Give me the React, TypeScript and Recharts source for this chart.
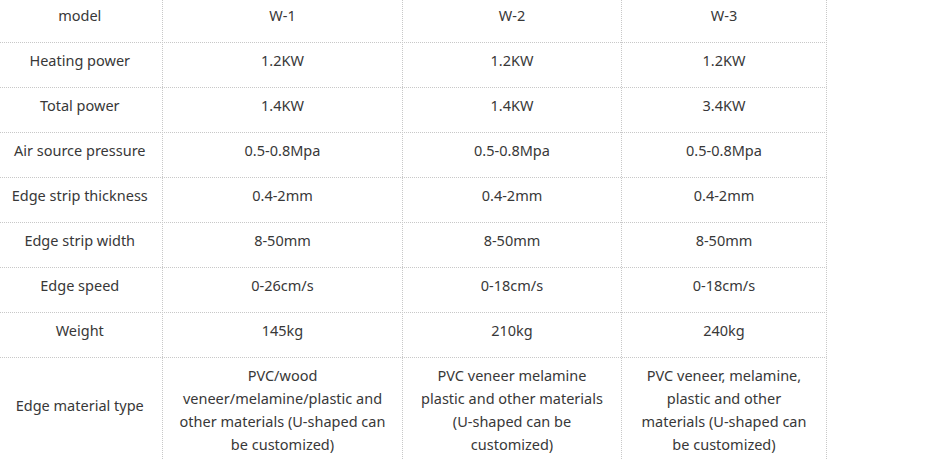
import React from 'react';
import { ScatterChart, Scatter, XAxis, YAxis, ReferenceLine } from 'recharts';

// ---- data ----
const headerLabel = 'model';
const models = ['W-1', 'W-2', 'W-3'];
const rowLabels = [
  'Heating power',
  'Total power',
  'Air source pressure',
  'Edge strip thickness',
  'Edge strip width',
  'Edge speed',
  'Weight',
  'Edge material type',
];
const w1Values = [
  '1.2KW',
  '1.4KW',
  '0.5-0.8Mpa',
  '0.4-2mm',
  '8-50mm',
  '0-26cm/s',
  '145kg',
  'PVC/wood\nveneer/melamine/plastic and\nother materials (U-shaped can\nbe customized)',
];
const w2Values = [
  '1.2KW',
  '1.4KW',
  '0.5-0.8Mpa',
  '0.4-2mm',
  '8-50mm',
  '0-18cm/s',
  '210kg',
  'PVC veneer melamine\nplastic and other materials\n(U-shaped can be\ncustomized)',
];
const w3Values = [
  '1.2KW',
  '3.4KW',
  '0.5-0.8Mpa',
  '0.4-2mm',
  '8-50mm',
  '0-18cm/s',
  '240kg',
  'PVC veneer, melamine,\nplastic and other\nmaterials (U-shaped can\nbe customized)',
];

// ---- layout ----
const W = 933;
const H = 459;
const colEdges = [-3, 162.5, 402.5, 621.5, 826.5];
const rowTop0 = -2.5;
const rowH = 45;
const lineH = 23;
const FONT = '"Noto Sans", "DejaVu Sans", sans-serif';
const FONT_SIZE = 14.5;
const TEXT_COLOR = '#383838';
const LINE_COLOR = '#c8c8c8';

type Cell = { x: number; y: number; lines: string[] };

const columns: string[][] = [
  [headerLabel, ...rowLabels],
  [models[0], ...w1Values],
  [models[1], ...w2Values],
  [models[2], ...w3Values],
];

const nRows = rowLabels.length + 1;
const lastRowTop = rowTop0 + rowH * (nRows - 1);

const cells: Cell[] = [];
columns.forEach((col, ci) => {
  const cx = (colEdges[ci] + colEdges[ci + 1]) / 2;
  col.forEach((txt, ri) => {
    const lines = txt.split('\n');
    let y: number;
    if (ri < nRows - 1) {
      y = rowTop0 + rowH * ri + 23.5;
    } else if (lines.length === 1) {
      y = lastRowTop + 53;
    } else {
      y = lastRowTop + 23.5;
    }
    cells.push({ x: cx, y, lines });
  });
});

const hLines = Array.from({ length: nRows - 1 }, (_, i) => rowTop0 + rowH * (i + 1));
const vLines = colEdges.slice(1);

const TextShape = (props: any) => {
  const { cx, cy, payload } = props;
  const lines: string[] = payload.lines;
  return (
    <text
      x={cx}
      y={cy}
      textAnchor="middle"
      fontFamily={FONT}
      fontSize={FONT_SIZE}
      fill={TEXT_COLOR}
    >
      {lines.map((l, i) => (
        <tspan key={i} x={cx} dy={i === 0 ? 0 : lineH}>
          {l}
        </tspan>
      ))}
    </text>
  );
};

export default function App() {
  return (
    <div style={{ position: 'absolute', left: 0, top: 0, width: W, height: H, background: '#fff' }}>
      <ScatterChart width={W} height={H} margin={{ top: 0, right: 0, bottom: 0, left: 0 }}>
        <XAxis type="number" dataKey="x" domain={[0, W]} hide allowDataOverflow />
        <YAxis type="number" dataKey="y" domain={[0, H]} reversed hide allowDataOverflow />
        {vLines.map((x) => (
          <ReferenceLine
            key={'v' + x}
            segment={[{ x, y: 0 }, { x, y: H }]}
            stroke={LINE_COLOR}
            strokeDasharray="1 1"
            ifOverflow="visible"
          />
        ))}
        {hLines.map((y) => (
          <ReferenceLine
            key={'h' + y}
            segment={[{ x: 0, y }, { x: colEdges[colEdges.length - 1], y }]}
            stroke={LINE_COLOR}
            strokeDasharray="1 1"
            ifOverflow="visible"
          />
        ))}
        <Scatter data={cells} shape={<TextShape />} isAnimationActive={false} />
      </ScatterChart>
    </div>
  );
}
